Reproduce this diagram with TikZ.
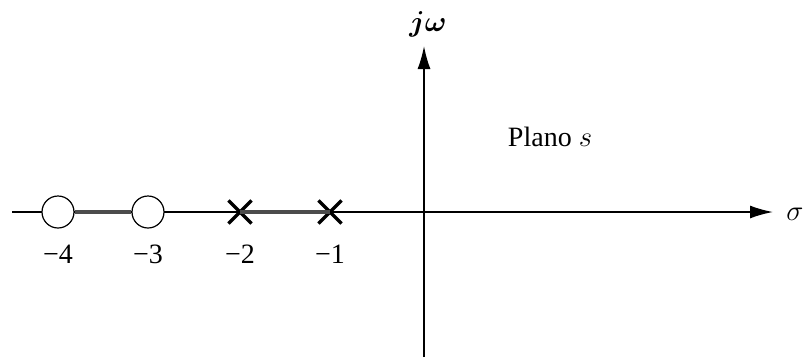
\documentclass[tikz,border=0pt]{standalone}
\usepackage{amsmath}
\usepackage{fontspec}
\setmainfont{Liberation Serif}
\usetikzlibrary{arrows.meta,shapes.misc}

\begin{document}
\begin{tikzpicture}[x=0.5pt, y=-0.5pt,
    axis/.style={line width=0.8pt, -{Latex[length=11.5pt, width=6.5pt]}},
    locus/.style={line width=1.8pt, black!70},
    zero/.style={draw, circle, line width=0.6pt, fill=white, minimum size=16pt, inner sep=0pt},
    pole/.style={draw, cross out, line width=1.6pt, minimum size=10pt, inner sep=0pt},
    lbl/.style={font=\fontsize{14}{16}\selectfont}]
\useasboundingbox (0,0) rectangle (803,359);
\coordinate (left) at (12,212);
\coordinate (right) at (773,212);
\coordinate (bottom) at (424,357);
\coordinate (top) at (424,46);
\draw[axis] (left) -- (right);
\draw[axis] (bottom) -- (top);
\node[zero] (z4) at (58,212) {};
\node[zero] (z3) at (148,212) {};
\node[pole] (p2) at (240,212) {};
\node[pole] (p1) at (330,212) {};
\draw[locus] (z4) -- (z3);
\draw[locus] (p2.center) -- (p1.center);
\node[lbl] (l4) at (58,254) {−4};
\node[lbl] (l3) at (148,254) {−3};
\node[lbl] (l2) at (240,254) {−2};
\node[lbl] (l1) at (330,254) {−1};
\node[lbl] (sigma) at (795,214) {$\sigma$};
\node[lbl] (jw) at (428,24) {$\boldsymbol{j\omega}$};
\node[lbl] (plane) at (550,137) {Plano $s$};
\end{tikzpicture}
\end{document}
